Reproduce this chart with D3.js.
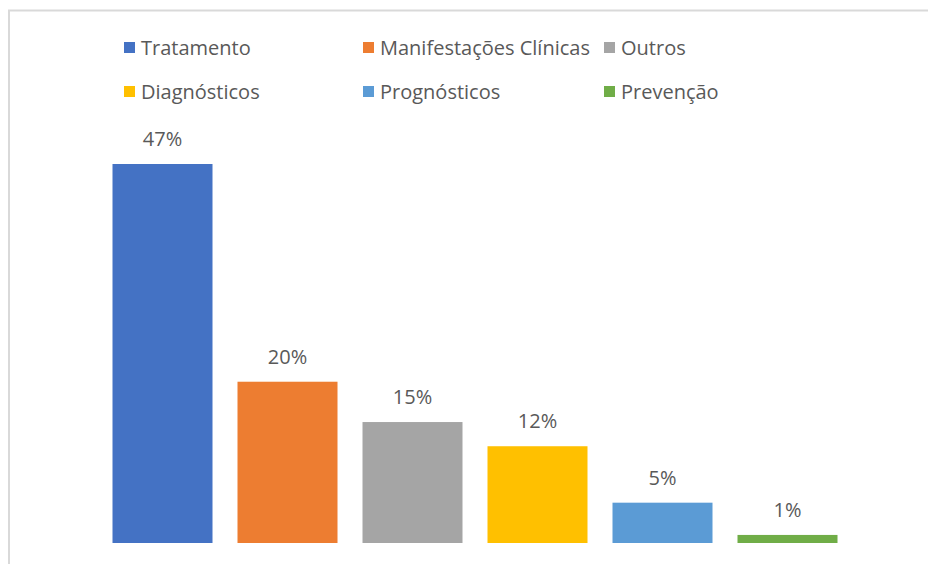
<!DOCTYPE html>
<html><head><meta charset="utf-8">
<script src="https://cdn.jsdelivr.net/npm/d3@7"></script>
<style>html,body{margin:0;padding:0;background:#fff;}svg{display:block;}</style>
</head><body><svg id="c" width="928" height="564"></svg>
<script>
const categories = ["Tratamento","Manifestações Clínicas","Outros","Diagnósticos","Prognósticos","Prevenção"];
const values = [47,20,15,12,5,1];
const labels = ["47%","20%","15%","12%","5%","1%"];
const colors = ["#4472C4","#ED7D31","#A5A5A5","#FFC000","#5B9BD5","#70AD47"];

const svg = d3.select("#c");
const font = "'Open Sans', sans-serif";
// frame
svg.append("path").attr("d","M9,564 V10.5 H928").attr("fill","none").attr("stroke","#d9d9d9").attr("stroke-width",2);

const x = d3.scaleBand().domain(categories).range([100,850]).paddingInner(0.2).paddingOuter(0.1);
const y = d3.scaleLinear().domain([0,47]).range([543,164]);

svg.selectAll("rect.bar").data(categories).join("rect").attr("class","bar")
  .attr("x",d=>x(d)).attr("width",x.bandwidth())
  .attr("y",(d,i)=>y(values[i])).attr("height",(d,i)=>y(0)-y(values[i]))
  .attr("fill",(d,i)=>colors[i]);

svg.selectAll("text.lbl").data(categories).join("text").attr("class","lbl")
  .attr("x",d=>x(d)+x.bandwidth()/2).attr("y",(d,i)=>y(values[i])-18)
  .attr("text-anchor","middle").attr("font-family",font).attr("font-size",20).attr("fill","#595959")
  .text((d,i)=>labels[i]);

// legend
const lg = svg.append("g");
categories.forEach((c,i)=>{
  const col = i%3, row = Math.floor(i/3);
  const lx = [124,363,604][col], ly = [48,92][row];
  lg.append("rect").attr("x",lx).attr("y",ly-6).attr("width",11).attr("height",11).attr("fill",colors[i]);
  lg.append("text").attr("x",lx+17).attr("y",ly+7).attr("font-family",font).attr("font-size",20).attr("fill","#595959").text(c);
});
</script></body></html>
